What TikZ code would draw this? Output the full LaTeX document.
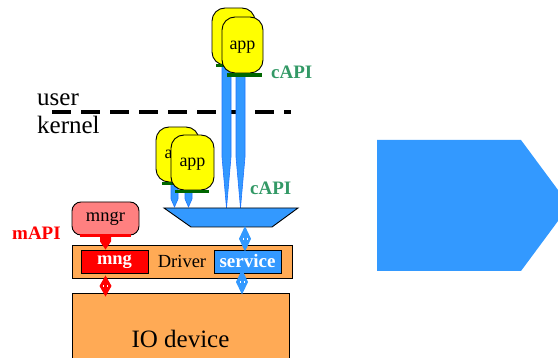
\documentclass[tikz,border=0pt]{standalone}
\usepackage{fontspec}
\setmainfont{Liberation Serif}
\usetikzlibrary{calc}

\definecolor{drvorange}{HTML}{FFAA55}
\definecolor{svcblue}{HTML}{3399FF}
\definecolor{needleedge}{HTML}{1F75FE}
\definecolor{appyellow}{HTML}{FFFF00}
\definecolor{barGreen}{HTML}{006600}
\definecolor{apiGreen}{HTML}{339966}
\definecolor{mngrpink}{HTML}{FF8080}

% two-headed connector drawn as a slim diamond with tiny white marks
\newcommand\biarrow[4]{%
  \fill[#1] (#2) -- ($(#2)!0.5!(#3)+(#4,0)$) -- (#3) -- ($(#2)!0.5!(#3)-(#4,0)$) -- cycle;
  \draw[white, line width=0.6pt] ($(#2)!0.5!(#3)+(-2.2,-1.2)$) -- ++(0,2.4);
  \draw[white, line width=0.6pt] ($(#2)!0.5!(#3)+(2.2,-1.2)$) -- ++(0,2.4);
}
% call channel: straight shaft that tapers to a point
\newcommand\callneedle[5]{% left x, right x, top y, taper y, tip y
  \filldraw[needle] (#1,#3) -- (#2,#3) -- (#2,#4) -- ({(#1+#2)/2},#5) -- (#1,#4) -- cycle;
}

\begin{document}
\begin{tikzpicture}[x=1pt, y=-1pt,
  box/.style={draw=black, line width=0.9pt, inner sep=0pt},
  appbox/.style={box, fill=appyellow, rounded corners=13pt,
    font=\fontsize{18}{20}\selectfont, text depth=-4pt},
  needle/.style={fill=svcblue, draw=needleedge, line width=0.6pt},
  greenbar/.style={barGreen, line width=3.6pt},
  apilabel/.style={font=\bfseries\fontsize{19}{21}\selectfont, inner sep=0pt},
  bigtext/.style={font=\fontsize{25}{27}\selectfont, inner sep=0pt},
  midtext/.style={font=\fontsize{18.5}{20}\selectfont},
]
\clip (0,0) rectangle (558,358);

% large arrow on the right
\fill[svcblue] (377,140) -- (521,140) -- (569.5,205.5) -- (521,271) -- (377,271) -- cycle;

% user / kernel boundary
\draw[line width=4pt, dash pattern=on 19pt off 10pt] (52,112) -- (291,112);
\node[bigtext, anchor=base west] (userlbl) at (37,106) {user};
\node[bigtext, anchor=base west] (kernlbl) at (37,134) {kernel};

% call channels from the applications into the multiplexer
\callneedle{222}{231}{65}{157}{208}
\callneedle{236}{245}{75}{157}{208}
\callneedle{171}{178}{183}{199}{207}
\callneedle{185}{192}{191}{199}{207}

% multiplexer
\coordinate (trapTL) at (164,208);
\coordinate (trapTR) at (298,208);
\coordinate (trapBR) at (272,227);
\coordinate (trapBL) at (191,227);
\filldraw[fill=svcblue, draw=black, line width=0.9pt]
  (trapTL) -- (trapTR) -- (trapBR) -- (trapBL) -- cycle;
\coordinate (trapBot) at (245,226);

% user-space applications
\node[appbox, minimum width=43, minimum height=57] (appUb) at (233.5,36.5) {};
\draw[greenbar] (216,65.5) -- (250,65.5);
\node[appbox, minimum width=41, minimum height=56] (appUf) at (242.5,45) {app};
\draw[greenbar] (227,75) -- (262,75);
\node[apilabel, anchor=base west] (capiU) at (271,79) {\textcolor{apiGreen}{cAPI}};

% kernel-space applications
\node[appbox, minimum width=43, minimum height=55] (appKb) at (177.5,154.5) {app};
\draw[greenbar] (162,183.5) -- (197,183.5);
\node[appbox, minimum width=43, minimum height=55] (appKf) at (192.5,162.5) {app};
\draw[greenbar] (175,191.5) -- (209,191.5);
\node[apilabel, anchor=base west] (capiK) at (250,195) {\textcolor{apiGreen}{cAPI}};

% manager
\node[box, fill=mngrpink, rounded corners=9pt, minimum width=67, minimum height=33,
  midtext] (mngr) at (105.5,218.5) {mngr};
\draw[red, line width=3.6pt] ($(mngr.south west)+(8,0)$) -- ($(mngr.south east)+(-8,0)$);
\node[apilabel, anchor=base west] (mapi) at (12,240) {\textcolor{red}{mAPI}};

% driver with its two parts
\node[box, fill=drvorange, minimum width=220, minimum height=33, midtext,
  text depth=-3pt] (driver) at (182,261.5) {Driver};
\node[box, fill=red, text=white, minimum width=67, minimum height=23,
  font=\bfseries\fontsize{18.5}{20}\selectfont] (mng) at (114.5,261.5) {mng};
\node[box, fill=svcblue, text=white, minimum width=67, minimum height=23,
  font=\bfseries\fontsize{19}{20}\selectfont] (service) at (247.5,261.5) {service};

% device
\node[box, fill=drvorange, minimum width=217, minimum height=92,
  font=\fontsize{25}{27}\selectfont] (io) at (180.5,339) {IO device};

% manager -> mng
\fill[red] ($(mngr.south)+(-5.5,0)$) -- ($(mngr.south)+(5.5,0)$) -- ($(mngr.south)+(5.5,6)$)
  -- (mngr.south |- mng.north) -- ($(mngr.south)+(-5.5,6)$) -- cycle;

% two-way links
\coordinate (mngLo) at ($(mngr.south |- driver.south)+(0,-3)$);
\coordinate (ioRed) at ($(mngr.south |- io.north)+(0,4)$);
\biarrow{red}{mngLo}{ioRed}{6}

\coordinate (svcTop) at ($(trapBot |- service.north)+(0,2)$);
\biarrow{svcblue}{trapBot}{svcTop}{6}

\coordinate (svcLo) at ($(service.south)+(-5.5,0)+(0,-4)$);
\coordinate (ioBlue) at ($(service.south |- io.north)+(-5.5,2)$);
\biarrow{svcblue}{svcLo}{ioBlue}{6}
\end{tikzpicture}
\end{document}
